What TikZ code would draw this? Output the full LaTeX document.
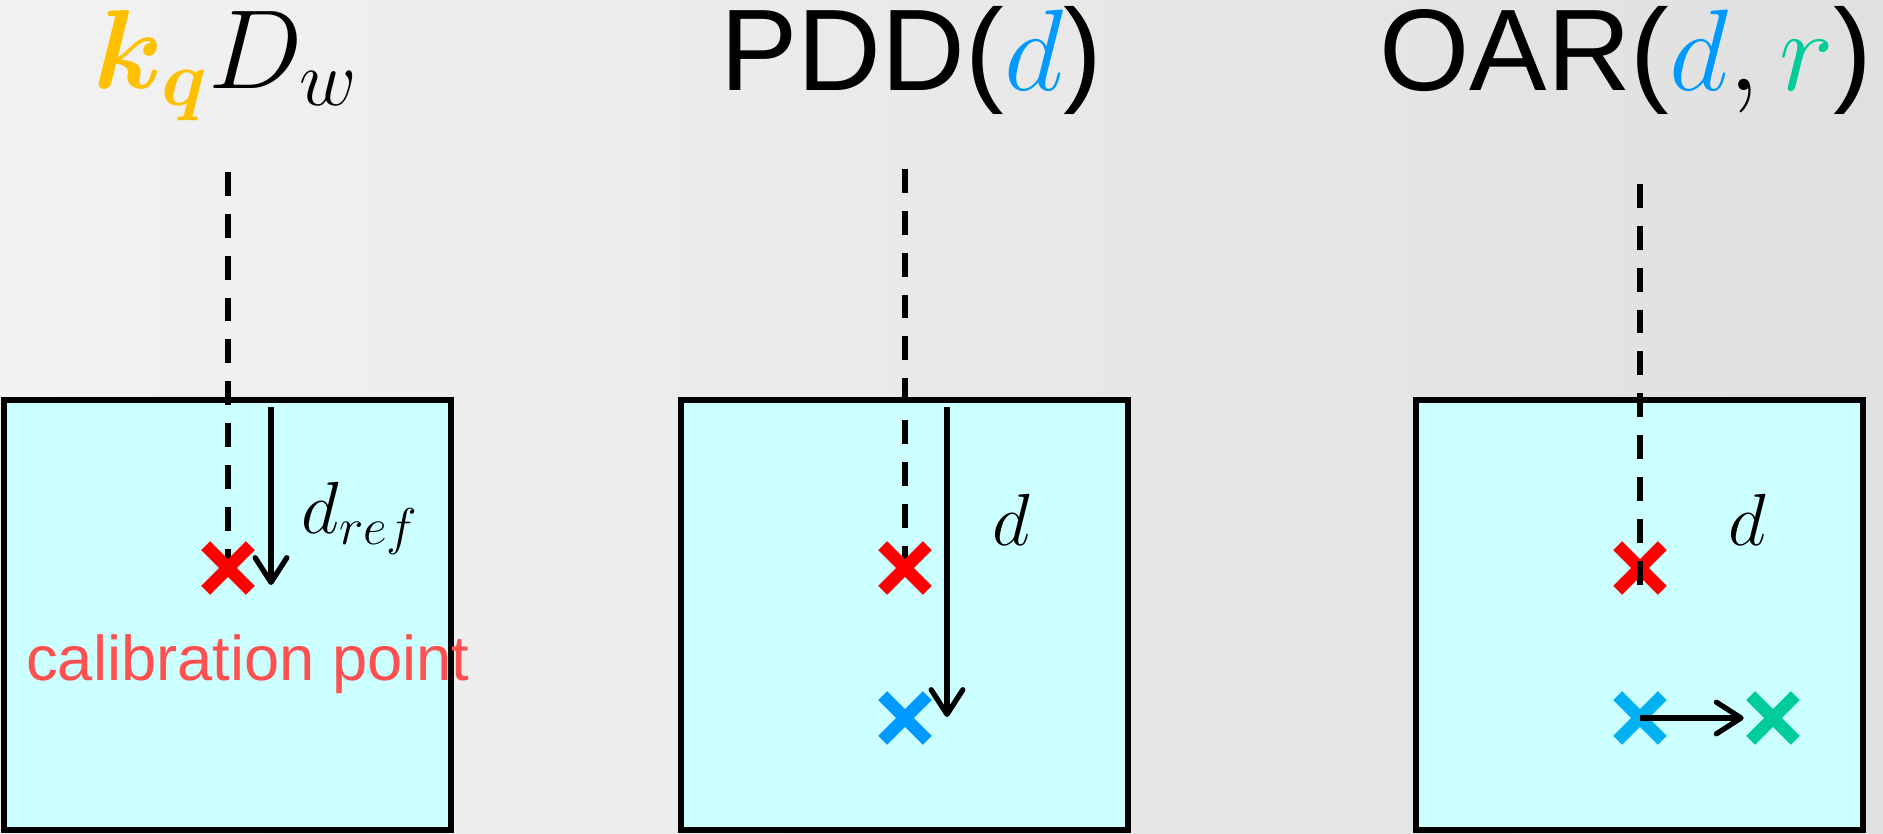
\documentclass[tikz,border=0pt]{standalone}
\usepackage{fix-cm}
\usepackage{amsmath,amssymb,bm}
\usepackage{fontspec}
\setmainfont{Liberation Sans}
\usetikzlibrary{shapes.misc,arrows.meta}

\definecolor{bgleft}{HTML}{F2F2F2}
\definecolor{bgright}{HTML}{E0E0E0}
\definecolor{water}{HTML}{CCFFFF}
\definecolor{kgold}{HTML}{FFC000}
\definecolor{dblue}{HTML}{0099FF}
\definecolor{pblue}{HTML}{00B0F0}
\definecolor{rgreen}{HTML}{00CC99}
\definecolor{calred}{HTML}{FF5050}

\begin{document}
\begin{tikzpicture}[x=0.01cm, y=-0.01cm, >={Straight Barb[length=7pt,width=9pt,round]},
  tank/.style={draw, fill=water, line width=1.6pt, minimum width=4.47cm, minimum height=4.30cm, inner sep=0pt},
  xmark/.style={cross out, draw=#1, line width=3.6pt, minimum size=0.32cm, inner sep=0pt},
  beam/.style={line width=1.6pt, dash pattern=on 6.8pt off 5.1pt},
  depth/.style={->, line width=1.5pt},
  title/.style={font=\fontsize{33}{40}\selectfont, anchor=base},
  lbl/.style={font=\fontsize{21}{25}\selectfont, anchor=base}]
  \useasboundingbox (0,0) rectangle (1883,834);
  % Background
  \shade[left color=bgleft, right color=bgright] (0,0) rectangle (1883,834);

  % Water phantoms
  \node[tank] (tank1) at (227.5,615) {};
  \node[tank] (tank2) at (904.5,615) {};
  \node[tank] (tank3) at (1639.5,615) {};

  % Titles
  \node[title, font=\fontsize{32}{38}\selectfont] (ttl1) at (226,89) {${\color{kgold}\bm{k}_{\bm{q}}}D_w$};
  \node[title] (ttl2) at (911,91) {PDD(${\color{dblue}d}$)};
  \node[title] (ttl3) at (1626,91) {OAR(${\color{dblue}d},{\color{rgreen}r}$)};

  % Beam axes and measuring points
  \coordinate (src1) at (228,172);
  \coordinate (src2) at (905,169);
  \coordinate (src3) at (1640,184);
  \coordinate (pt1) at (228,568);
  \coordinate (pt2) at (905,568);
  \coordinate (pt3) at (1640,568);
  \draw[beam] (src1) -- (pt1);
  \draw[beam] (src2) -- (pt2);

  \node[xmark=red] (ref1) at (pt1) {};
  \node[xmark=red] (ref2) at (pt2) {};
  \node[xmark=dblue] (pdd2) at (905,718) {};
  \node[xmark=red] (ref3) at (pt3) {};
  \node[xmark=pblue] (off3) at (1640,718) {};
  \node[xmark=rgreen] (oar3) at (1773,718) {};

  \draw[beam] (src3) -- (ref3.south);

  % Depth arrows
  \coordinate (top1) at (271,407);
  \coordinate (bot1) at (271,585);
  \coordinate (top2) at (947,407);
  \coordinate (bot2) at (947,717);
  \draw[depth] (top1) -- (bot1);
  \draw[depth] (top2) -- (bot2);
  \draw[depth, shorten >=2pt] (off3.center) -- (oar3.west);

  % Labels
  \node[lbl, anchor=base west] (dref) at (289,533) {$d_{ref}$};
  \node[lbl] (d2) at (1011,545) {$d$};
  \node[lbl] (d3) at (1747,545) {$d$};
  \node[font=\fontsize{18}{22}\selectfont, text=calred, anchor=base] (calib) at (248,680) {calibration point};
\end{tikzpicture}
\end{document}
